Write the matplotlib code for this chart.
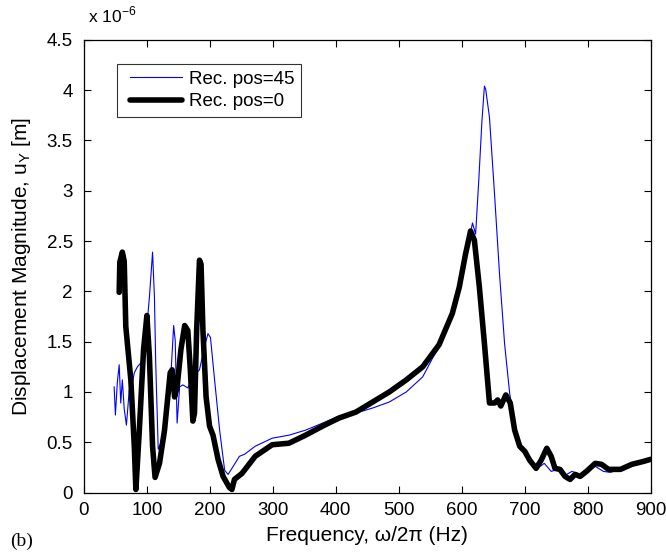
import matplotlib
matplotlib.use("Agg")
import matplotlib.pyplot as plt
from matplotlib.ticker import FuncFormatter
from matplotlib.lines import Line2D
from matplotlib.legend_handler import HandlerLine2D

plt.rcParams['font.family'] = ['Liberation Sans', 'DejaVu Sans']

# Rec. pos=45 (blue thin), values in 1e-6 m
f45 = [48, 50, 53, 56, 58.5, 61, 64, 67.5, 72, 77, 80, 85, 90.5, 96, 104, 109, 112, 114,
       118, 122, 130, 138, 142.5, 145, 148, 152, 157, 165, 173, 183.5, 191.5, 197, 201,
       207.5, 215.5, 223.5, 229, 237, 247, 255, 272, 299, 325.5, 352, 379, 405, 432,
       458.5, 485, 512, 538, 554, 567.6, 585, 598, 609, 617, 622, 627, 632, 636, 638,
       644, 652, 660, 668, 676, 684, 694, 705, 718, 731, 742, 753, 761, 775, 788, 798,
       812, 825, 836, 852, 870, 889, 900]
u45 = [1.05, 0.77, 1.09, 1.27, 0.89, 1.12, 0.83, 0.67, 1.02, 1.09, 1.19, 1.25, 1.29, 1.38,
       1.94, 2.39, 1.94, 1.29, 0.43, 0.49, 0.76, 1.15, 1.66, 1.51, 0.69, 1.05, 1.07, 1.04,
       1.15, 1.22, 1.45, 1.58, 1.54, 1.12, 0.62, 0.22, 0.18, 0.26, 0.36, 0.38, 0.46, 0.54,
       0.57, 0.62, 0.69, 0.76, 0.79, 0.84, 0.90, 1.00, 1.15, 1.34, 1.48, 1.75, 2.04, 2.41,
       2.68, 2.57, 3.10, 3.69, 4.04, 4.01, 3.73, 2.97, 2.17, 1.48, 0.99, 0.66, 0.46, 0.36,
       0.23, 0.29, 0.21, 0.23, 0.16, 0.21, 0.18, 0.23, 0.26, 0.21, 0.20, 0.23, 0.28, 0.31,
       0.33]

# Rec. pos=0 (black thick), values in 1e-6 m
f0 = [56, 57, 61, 64, 66.5, 74.5, 80, 82.5, 88, 94.7, 100, 104, 109, 113, 120, 128, 137,
      140, 144, 148, 154, 160, 165, 169, 173, 175.6, 179, 183.5, 186, 189, 194, 199.5,
      205, 213, 221, 231, 235, 239, 251, 272, 299, 325.5, 352, 379, 405, 432, 458.5, 485,
      512, 538, 564, 585, 596, 606, 614, 620, 628, 636, 644, 652, 657, 662, 670, 677, 684,
      692, 700, 708, 718, 726, 735, 742, 748, 756, 764, 772, 780, 788, 798, 812, 822, 833,
      852, 870, 889, 900]
u0 = [1.99, 2.29, 2.39, 2.30, 1.65, 1.12, 0.46, 0.03, 0.62, 1.42, 1.76, 1.35, 0.46, 0.15,
      0.29, 0.62, 1.19, 1.22, 0.95, 1.05, 1.42, 1.66, 1.61, 1.22, 0.71, 0.79, 1.61, 2.31,
      2.27, 1.61, 0.95, 0.66, 0.57, 0.33, 0.16, 0.05, 0.03, 0.13, 0.19, 0.36, 0.475, 0.49,
      0.57, 0.66, 0.74, 0.80, 0.90, 1.00, 1.12, 1.25, 1.47, 1.78, 2.04, 2.37, 2.60, 2.51,
      2.04, 1.48, 0.89, 0.89, 0.92, 0.86, 0.97, 0.89, 0.62, 0.46, 0.41, 0.32, 0.24, 0.32,
      0.44, 0.36, 0.24, 0.23, 0.16, 0.13, 0.18, 0.16, 0.21, 0.29, 0.28, 0.23, 0.23, 0.28,
      0.31, 0.33]

xticks = [0, 100, 200, 300, 400, 500, 600, 700, 800, 900]
yticks = [0, 0.5, 1, 1.5, 2, 2.5, 3, 3.5, 4, 4.5]

fig = plt.figure(figsize=(6.66, 5.54), dpi=100)
ax = fig.add_axes([0.126, 0.111, 0.851, 0.817])

ax.plot(f45, u45, color='#0000ff', lw=0.8, label='Rec. pos=45')
ax.plot(f0, u0, color='black', lw=4, solid_joinstyle='round', solid_capstyle='round',
        label='Rec. pos=0')

ax.set_xlim(0, 900)
ax.set_ylim(0, 4.5)
ax.set_xticks(xticks)
ax.set_yticks(yticks)
ax.yaxis.set_major_formatter(FuncFormatter(lambda v, p: ('%g' % v)))
ax.tick_params(direction='in', top=True, right=True, labelsize=13.5, length=5, width=0.8)
ax.tick_params(axis='y', pad=8)
ax.tick_params(axis='x', pad=7)
for s in ax.spines.values():
    s.set_linewidth(0.9)

ax.set_xlabel('Frequency, \u03c9/2\u03c0 (Hz)', fontsize=15, labelpad=5)
ax.set_ylabel('Displacement Magnitude, u$_\\mathregular{Y}$ [m]', fontsize=15, labelpad=10)

fig.text(0.132, 0.955, 'x 10$^{\\mathregular{-6}}$', fontsize=12.5, ha='left', va='bottom')
fig.text(0.015, 0.008, '(b)', fontsize=14, family='Liberation Serif', ha='left', va='bottom')

leg = ax.legend(loc='upper left', bbox_to_anchor=(0.058, 0.947), borderaxespad=0,
                fontsize=13.5, frameon=True, fancybox=False, edgecolor='black',
                handlelength=3.12, borderpad=0.35, labelspacing=0.3, handletextpad=0.37,
                handler_map={Line2D: HandlerLine2D(xpad=0.35)})
leg.get_frame().set_linewidth(0.8)

fig.savefig('out.png', dpi=100)
